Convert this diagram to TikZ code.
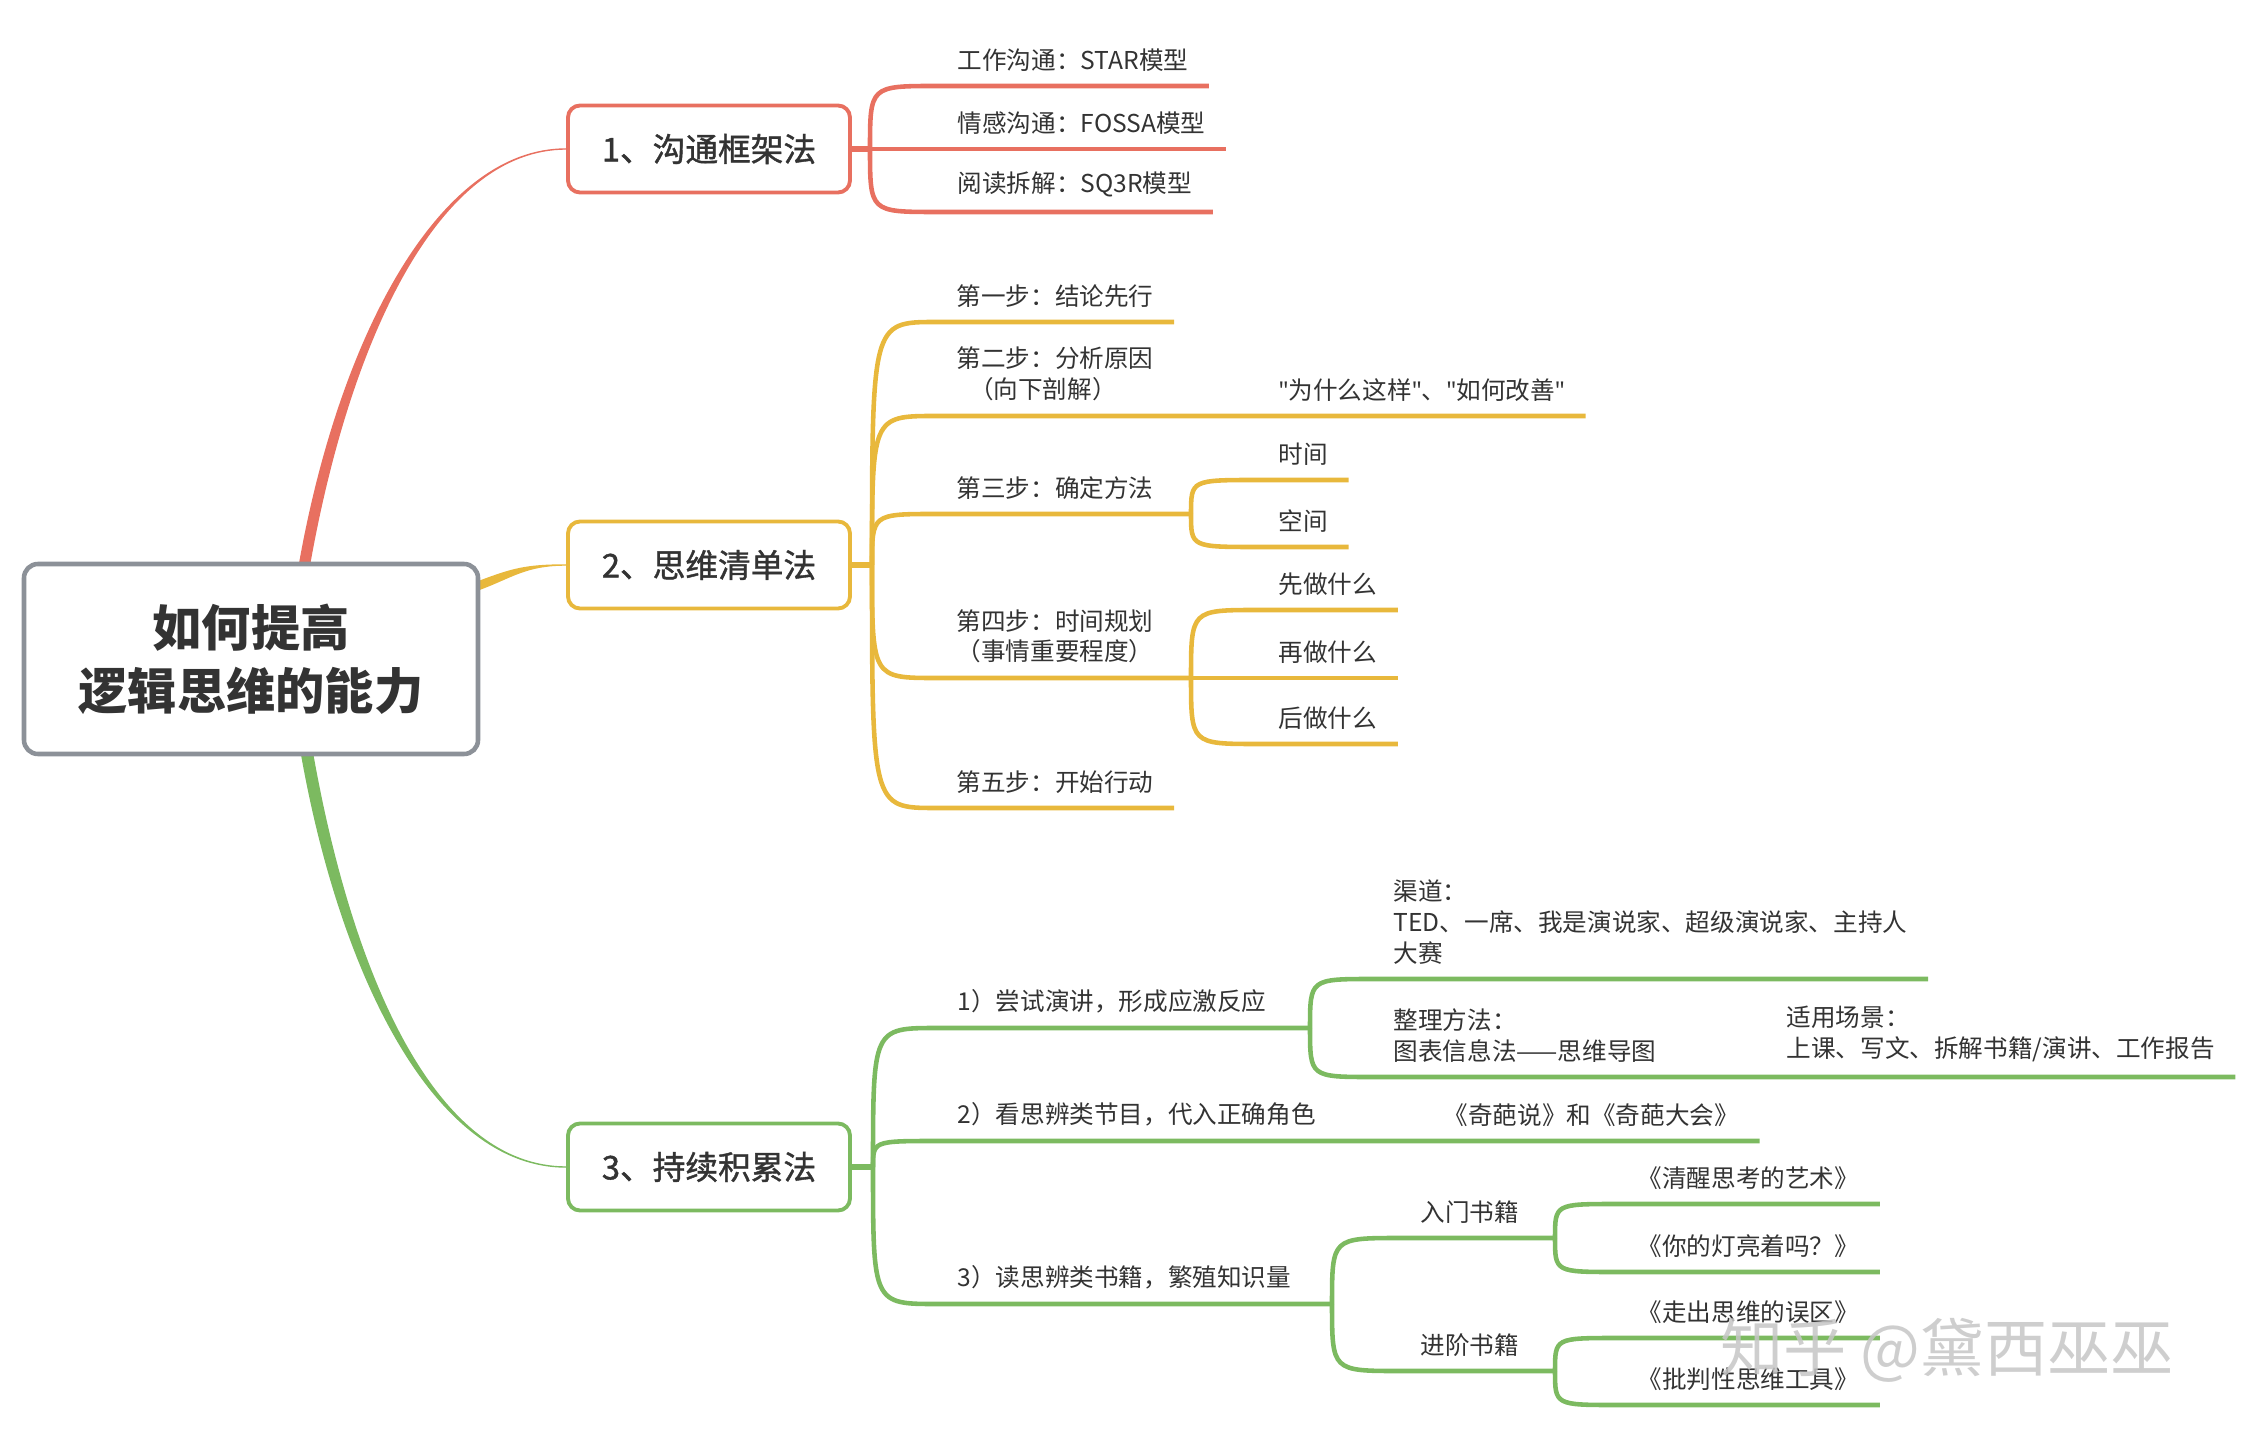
\documentclass[tikz,border=0pt]{standalone}
\usepackage{fontspec}
\setmainfont{Noto Sans CJK SC}
\newfontfamily\topicfont{Noto Sans CJK SC}[FakeBold=1.2]
\newfontfamily\latinfont{Noto Sans}
\usetikzlibrary{backgrounds}
\definecolor{redc}{HTML}{E87060}
\definecolor{yelc}{HTML}{E8B83C}
\definecolor{grnc}{HTML}{7CBA60}
\definecolor{grayc}{HTML}{8C9198}
\definecolor{txtc}{HTML}{333333}
\newcommand{\qq}{{\latinfont"}}

\begin{document}
\begin{tikzpicture}[
    root/.style={rectangle, draw=grayc, line width=1.3pt, rounded corners=0.14cm, fill=white, minimum width=4.54cm, minimum height=1.90cm, align=center, text=txtc, font=\fontsize{14}{18}\selectfont\bfseries},
    topic/.style={rectangle, draw=#1, line width=1.1pt, rounded corners=0.12cm, fill=white, minimum width=2.82cm, minimum height=0.87cm, text=txtc, font=\fontsize{9.3}{11}\topicfont},
    sub/.style={anchor=south west, inner xsep=0.2cm, inner ysep=0.14cm, align=left, text=txtc, font=\fontsize{7}{8.8}\selectfont},
    trunk/.style={fill=#1, draw=#1, line width=0.4pt},
    br/.style={draw=#1, line width=1.3pt},
    stub/.style={draw=#1, line width=1.6pt},
]
\useasboundingbox (0,0) rectangle (22.44,14.40);

\node[root] (root) at (2.51,7.81) {如何提高\\逻辑思维的能力};
\node[topic=redc] (m1) at (7.09,12.91) {1、沟通框架法};
\node[topic=yelc] (m2) at (7.09,8.75) {2、思维清单法};
\node[topic=grnc] (m3) at (7.09,2.73) {3、持续积累法};

\node[sub] (s11) at (9.37,13.54) {工作沟通：STAR模型};
\node[sub] (s12) at (9.37,12.91) {情感沟通：FOSSA模型};
\node[sub] (s13) at (9.37,12.28) {阅读拆解：SQ3R模型};

\node[sub] (s21) at (9.36,11.18) {第一步：结论先行};
\node[sub] (s22) at (9.36,10.24) {第二步：分析原因\\\hspace*{0.5em}（向下剖解）};
\node[sub] (s221) at (12.58,10.24) {\qq 为什么这样\qq 、\qq 如何改善\qq};
\node[sub] (s23) at (9.36,9.26) {第三步：确定方法};
\node[sub] (s231) at (12.58,9.60) {时间};
\node[sub] (s232) at (12.58,8.93) {空间};
\node[sub] (s24) at (9.36,7.62) {第四步：时间规划\\（事情重要程度）};
\node[sub] (s241) at (12.58,8.30) {先做什么};
\node[sub] (s242) at (12.58,7.62) {再做什么};
\node[sub] (s243) at (12.58,6.96) {后做什么};
\node[sub] (s25) at (9.36,6.32) {第五步：开始行动};

\node[sub] (s31) at (9.37,4.12) {1）尝试演讲，形成应激反应};
\node[sub] (s311) at (13.73,4.61) {渠道：\\TED、一席、我是演说家、超级演说家、主持人\\大赛};
\node[sub] (s312) at (13.73,3.63) {整理方法：\\图表信息法——思维导图};
\node[sub] (s3121) at (17.66,3.63) {适用场景：\\上课、写文、拆解书籍/演讲、工作报告};
\node[sub] (s32) at (9.37,2.99) {2）看思辨类节目，代入正确角色};
\node[sub] (s321) at (14.23,2.99) {《奇葩说》和《奇葩大会》};
\node[sub] (s33) at (9.37,1.36) {3）读思辨类书籍，繁殖知识量};
\node[sub] (s331) at (14.00,2.02) {入门书籍};
\node[sub] (s332) at (14.00,0.69) {进阶书籍};
\node[sub] (s3311) at (16.17,2.36) {《清醒思考的艺术》};
\node[sub] (s3312) at (16.17,1.68) {《你的灯亮着吗？》};
\node[sub] (s3321) at (16.17,1.02) {《走出思维的误区》};
\node[sub] (s3322) at (16.17,0.35) {《批判性思维工具》};

\coordinate (f1) at (8.70,12.91);
\coordinate (f2) at (8.72,8.75);
\coordinate (f23) at (11.91,9.26);
\coordinate (f24) at (11.91,7.62);
\coordinate (f3) at (8.73,2.73);
\coordinate (f31) at (13.10,4.12);
\coordinate (f33) at (13.32,1.36);
\coordinate (f331) at (15.55,2.02);
\coordinate (f332) at (15.55,0.69);

\node[text=gray!45, opacity=0.85, font=\fontsize{18}{20}\selectfont] (wm) at (19.47,0.90) {知乎 @黛西巫巫};

\begin{scope}[on background layer]
\path[trunk=redc] ([xshift=0.49cm]root.north) .. controls +(0.40,2.23) and +(-1.28,0) .. (m1.west) .. controls +(-1.28,0) and +(0.40,2.23) .. ([xshift=0.59cm]root.north) -- cycle;
\path[trunk=yelc] ([yshift=0.78cm]root.east) .. controls +(0.32,0.12) and +(-0.40,0) .. (m2.west) .. controls +(-0.40,0) and +(0.32,0.12) .. ([yshift=0.70cm]root.east) -- cycle;
\path[trunk=grnc] ([xshift=0.51cm]root.south) .. controls +(0.40,-2.23) and +(-1.30,0) .. (m3.west) .. controls +(-1.30,0) and +(0.40,-2.23) .. ([xshift=0.62cm]root.south) -- cycle;

\draw[stub=redc] (m1.east) -- (f1);
\draw[stub=yelc] (m2.east) -- (f2);
\draw[stub=grnc] (m3.east) -- (f3);

\draw[br=redc] (f1) .. controls (f1 |- s11.south west) .. (s11.south west) -- (s11.south east);
\draw[br=redc] (f1) -- (s12.south west) -- (s12.south east);
\draw[br=redc] (f1) .. controls (f1 |- s13.south west) .. (s13.south west) -- (s13.south east);

\draw[br=yelc] (f2) .. controls (f2 |- s21.south west) .. (s21.south west) -- (s21.south east);
\draw[br=yelc] (f2) .. controls (f2 |- s22.south west) .. (s22.south west) -- (s221.south east);
\draw[br=yelc] (f2) .. controls (f2 |- s23.south west) .. (s23.south west) -- (f23);
\draw[br=yelc] (f23) .. controls (f23 |- s231.south west) .. (s231.south west) -- (s231.south east);
\draw[br=yelc] (f23) .. controls (f23 |- s232.south west) .. (s232.south west) -- (s232.south east);
\draw[br=yelc] (f2) .. controls (f2 |- s24.south west) .. (s24.south west) -- (f24);
\draw[br=yelc] (f24) .. controls (f24 |- s241.south west) .. (s241.south west) -- (s241.south east);
\draw[br=yelc] (f24) -- (s242.south west) -- (s242.south east);
\draw[br=yelc] (f24) .. controls (f24 |- s243.south west) .. (s243.south west) -- (s243.south east);
\draw[br=yelc] (f2) .. controls (f2 |- s25.south west) .. (s25.south west) -- (s25.south east);

\draw[br=grnc] (f3) .. controls (f3 |- s31.south west) .. (s31.south west) -- (f31);
\draw[br=grnc] (f31) .. controls (f31 |- s311.south west) .. (s311.south west) -- (s311.south east);
\draw[br=grnc] (f31) .. controls (f31 |- s312.south west) .. (s312.south west) -- (s3121.south east);
\draw[br=grnc] (f3) .. controls (f3 |- s32.south west) .. (s32.south west) -- (s321.south east);
\draw[br=grnc] (f3) .. controls (f3 |- s33.south west) .. (s33.south west) -- (f33);
\draw[br=grnc] (f33) .. controls (f33 |- s331.south west) .. (s331.south west) -- (f331);
\draw[br=grnc] (f33) .. controls (f33 |- s332.south west) .. (s332.south west) -- (f332);
\draw[br=grnc] (f331) .. controls (f331 |- s3311.south west) .. (s3311.south west) -- (s3311.south east);
\draw[br=grnc] (f331) .. controls (f331 |- s3312.south west) .. (s3312.south west) -- (s3312.south east);
\draw[br=grnc] (f332) .. controls (f332 |- s3321.south west) .. (s3321.south west) -- (s3321.south east);
\draw[br=grnc] (f332) .. controls (f332 |- s3322.south west) .. (s3322.south west) -- (s3322.south east);
\end{scope}
\end{tikzpicture}
\end{document}
